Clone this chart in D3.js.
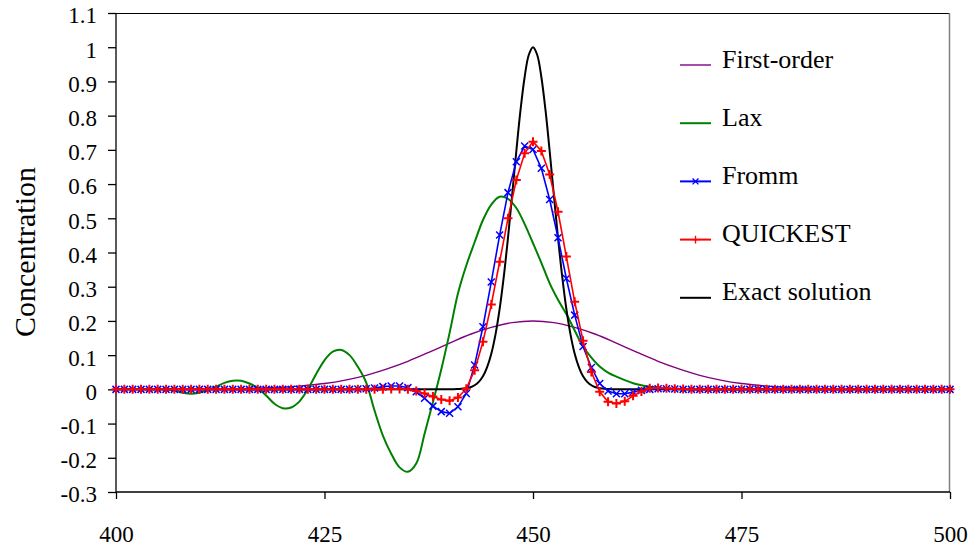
<!DOCTYPE html>
<html>
<head>
<meta charset="utf-8">
<script src="https://cdn.jsdelivr.net/npm/d3@7"></script>
<style>
  html, body { margin: 0; padding: 0; background: #fff; }
  svg { display: block; }
</style>
</head>
<body>
<svg id="chart" width="972" height="551"></svg>
<script>
// Axis ticks and their labels
const xTicks = [400, 425, 450, 475, 500];
const yTicks = [-0.3, -0.2, -0.1, 0, 0.1, 0.2, 0.3, 0.4, 0.5, 0.6, 0.7, 0.8, 0.9, 1, 1.1];
const yTickLabels = ["-0.3", "-0.2", "-0.1", "0", "0.1", "0.2", "0.3", "0.4", "0.5", "0.6", "0.7", "0.8", "0.9", "1", "1.1"];

const seriesNames = ["First-order", "Lax", "Fromm", "QUICKEST", "Exact solution"];

// First-order upwind result (smeared pulse)
const firstOrderX = [400, 405, 410, 415, 417.5, 420, 422.5, 425, 427.5, 430, 432.5, 435, 437.5, 440, 442.5, 445, 447.5, 450,
  452.5, 455, 457.5, 460, 462.5, 465, 467.5, 470, 472.5, 475, 477.5, 480, 482.5, 485, 490, 495, 500];
const firstOrderY = [0, 0, 0.001, 0.002, 0.004, 0.006, 0.011, 0.017, 0.027, 0.041, 0.060, 0.082, 0.108, 0.135, 0.161, 0.181, 0.195, 0.200,
  0.195, 0.181, 0.161, 0.135, 0.108, 0.082, 0.060, 0.041, 0.027, 0.017, 0.011, 0.006, 0.004, 0.002, 0.001, 0, 0];

// Lax scheme result (lagging, oscillating pulse)
const laxX = [400, 405, 406, 407, 408, 409, 410, 411, 412, 413, 414, 415, 416, 417, 418, 419, 420, 421, 422, 423, 424, 425, 426, 427, 428,
  429, 430, 431, 432, 433, 434, 435, 436, 437, 438, 439, 440, 441, 442, 443, 444, 445, 446, 447, 448, 449, 450, 451, 452, 453,
  454, 455, 456, 457, 458, 459, 460, 461, 462, 463, 464, 465, 466, 467, 468, 475, 500];
const laxY = [0, 0, 0, -0.003, -0.010, -0.013, -0.010, -0.002, 0.008, 0.019, 0.025, 0.025, 0.017, 0.004, -0.018, -0.042, -0.055, -0.053, -0.035, 0.000, 0.045, 0.085, 0.110, 0.115, 0.100,
  0.066, 0.020, -0.062, -0.135, -0.188, -0.228, -0.241, -0.217, -0.130, -0.038, 0.058, 0.165, 0.280, 0.362, 0.430, 0.495, 0.540, 0.563, 0.557, 0.530, 0.483, 0.427, 0.370, 0.310, 0.262,
  0.220, 0.172, 0.125, 0.093, 0.067, 0.049, 0.037, 0.027, 0.018, 0.012, 0.008, 0.004, 0.002, 0.001, 0, 0, 0];

// Fromm and QUICKEST results, one value per grid point 400..500
const gridX = d3.range(400, 501);
const frommY = [
  0, 0, 0, 0, 0, 0, 0, 0, 0, 0,
  0, 0, 0, 0, 0, 0, 0, 0, 0, 0,
  0, 0, 0, 0, 0, 0, 0, 0, 0, 0.001,
  0.002, 0.004, 0.008, 0.010, 0.010, 0.005, -0.007, -0.026, -0.049, -0.065,
  -0.070, -0.051, -0.012, 0.071, 0.183, 0.314, 0.451, 0.575, 0.665, 0.711,
  0.701, 0.646, 0.555, 0.443, 0.324, 0.217, 0.125, 0.064, 0.017, -0.005,
  -0.013, -0.013, -0.008, -0.003, 0.000, 0.002, 0.002, 0.001, 0, 0,
  0, 0, 0, 0, 0, 0, 0, 0, 0, 0,
  0, 0, 0, 0, 0, 0, 0, 0, 0, 0,
  0, 0, 0, 0, 0, 0, 0, 0, 0, 0,
  0];
const quickestY = [
  0, 0, 0, 0, 0, 0, 0, 0, 0, 0,
  0, 0, 0, 0, 0, 0, 0, 0, 0, 0,
  0, 0, 0, 0, 0, 0, 0, 0, 0, 0,
  0, 0, 0, 0.001, 0.001, 0, -0.005, -0.012, -0.021, -0.030,
  -0.033, -0.024, 0.002, 0.056, 0.139, 0.248, 0.373, 0.500, 0.612, 0.690,
  0.724, 0.697, 0.628, 0.519, 0.388, 0.256, 0.142, 0.051, -0.007, -0.036,
  -0.041, -0.035, -0.019, -0.006, 0.003, 0.004, 0.003, 0.002, 0.001, 0,
  0, 0, 0, 0, 0, 0, 0, 0, 0, 0,
  0, 0, 0, 0, 0, 0, 0, 0, 0, 0,
  0, 0, 0, 0, 0, 0, 0, 0, 0, 0,
  0];

// Exact solution (advected pulse)
const exactX = [400, 440, 441, 442, 442.5, 443, 443.5, 444, 444.5, 445, 445.5, 446, 446.5, 447, 447.5, 448, 448.5, 449, 449.5, 450,
  450.5, 451, 451.5, 452, 452.5, 453, 453.5, 454, 454.5, 455, 455.5, 456, 456.5, 457, 457.5, 458, 459, 460, 500];
const exactY = [0, 0, 0.001, 0.003, 0.006, 0.012, 0.022, 0.038, 0.065, 0.104, 0.160, 0.235, 0.330, 0.443, 0.568, 0.696, 0.816, 0.913, 0.978, 1.000,
  0.978, 0.913, 0.816, 0.696, 0.568, 0.443, 0.330, 0.235, 0.160, 0.104, 0.065, 0.038, 0.022, 0.012, 0.006, 0.003, 0.001, 0, 0];

const colors = {
  first: "#800080",
  lax: "#008000",
  fromm: "#0000ff",
  quick: "#ff0000",
  exact: "#000000"
};
const serif = "'Liberation Serif', 'Times New Roman', serif";

const svg = d3.select("#chart");
const plotLeft = 116, plotRight = 950, plotTop = 13, plotBottom = 492;

const x = d3.scaleLinear().domain([400, 500]).range([plotLeft, plotRight]);
const y = d3.scaleLinear().domain([-0.3, 1.1]).range([plotBottom, plotTop]);

// Plot frame (top and right edges)
svg.append("line").attr("x1", plotLeft).attr("x2", plotRight).attr("y1", plotTop + 0.5).attr("y2", plotTop + 0.5)
  .attr("stroke", "#000").attr("stroke-width", 1);
svg.append("line").attr("x1", plotRight - 0.5).attr("x2", plotRight - 0.5).attr("y1", plotTop).attr("y2", plotBottom)
  .attr("stroke", "#808080").attr("stroke-width", 1.5);

// Axes
const yAxis = d3.axisLeft(y).tickValues(yTicks).tickFormat((d, i) => yTickLabels[i])
  .tickSize(8).tickSizeOuter(0).tickPadding(11);
const gy = svg.append("g").attr("transform", `translate(${plotLeft},0)`).call(yAxis);
gy.select(".domain").remove();
gy.selectAll(".tick line").attr("stroke", "#000").attr("stroke-width", 1.3);
gy.selectAll(".tick text").attr("fill", "#000").attr("dy", "0.43em")
  .style("font-family", serif).style("font-size", "23px");

const xAxis = d3.axisBottom(x).tickValues(xTicks).tickFormat(d3.format("d"))
  .tickSize(7).tickSizeOuter(0).tickPadding(27);
const gx = svg.append("g").attr("transform", `translate(0,${plotBottom})`).call(xAxis);
gx.select(".domain").remove();
gx.selectAll(".tick line").attr("stroke", "#000").attr("stroke-width", 1.3);
gx.selectAll(".tick text").attr("fill", "#000")
  .style("font-family", serif).style("font-size", "23px");

svg.append("line").attr("x1", plotLeft).attr("x2", plotLeft).attr("y1", plotTop).attr("y2", plotBottom)
  .attr("stroke", "#000").attr("stroke-width", 1.3);
svg.append("line").attr("x1", plotLeft).attr("x2", plotRight).attr("y1", plotBottom).attr("y2", plotBottom)
  .attr("stroke", "#000").attr("stroke-width", 1.3);

// Axis title
svg.append("text")
  .attr("transform", "translate(35,252) rotate(-90)")
  .attr("text-anchor", "middle")
  .attr("fill", "#000")
  .style("font-family", serif).style("font-size", "30px")
  .text("Concentration");

// Series lines
const smooth = d3.line().x(d => x(d[0])).y(d => y(d[1])).curve(d3.curveCatmullRom.alpha(0.5));
const straight = d3.line().x(d => x(d[0])).y(d => y(d[1]));
const zip = (xs, ys) => xs.map((v, i) => [v, ys[i]]);

const plot = svg.append("g");

plot.append("path").datum(zip(firstOrderX, firstOrderY))
  .attr("d", smooth).attr("fill", "none").attr("stroke", colors.first).attr("stroke-width", 1.4);

plot.append("path").datum(zip(laxX, laxY))
  .attr("d", smooth).attr("fill", "none").attr("stroke", colors.lax).attr("stroke-width", 2);

plot.append("path").datum(zip(exactX, exactY))
  .attr("d", smooth).attr("fill", "none").attr("stroke", colors.exact).attr("stroke-width", 2);

const frommPts = zip(gridX, frommY);
plot.append("path").datum(frommPts)
  .attr("d", straight).attr("fill", "none").attr("stroke", colors.fromm).attr("stroke-width", 1.6);
const crossPath = "M-3.5,-3.5L3.5,3.5M-3.5,3.5L3.5,-3.5";
plot.append("g").selectAll("path").data(frommPts).join("path")
  .attr("transform", d => `translate(${x(d[0])},${y(d[1])})`)
  .attr("d", crossPath).attr("stroke", colors.fromm).attr("stroke-width", 1.5).attr("fill", "none");

const quickPts = zip(gridX, quickestY);
plot.append("path").datum(quickPts)
  .attr("d", straight).attr("fill", "none").attr("stroke", colors.quick).attr("stroke-width", 1.6);
const plusPath = "M-4.5,0H4.5M0,-4.5V4.5";
plot.append("g").selectAll("path").data(quickPts).join("path")
  .attr("transform", d => `translate(${x(d[0])},${y(d[1])})`)
  .attr("d", plusPath).attr("stroke", colors.quick).attr("stroke-width", 2).attr("fill", "none");

// Legend
const legendColors = [colors.first, colors.lax, colors.fromm, colors.quick, colors.exact];
const legendMarkers = [null, null, crossPath, plusPath, null];
const legend = svg.append("g");
seriesNames.forEach((name, i) => {
  const ly = 65 + i * 58.2;
  const g = legend.append("g").attr("transform", `translate(0,${ly})`);
  g.append("line").attr("x1", 680).attr("x2", 711).attr("y1", 0).attr("y2", 0)
    .attr("stroke", legendColors[i]).attr("stroke-width", i === 0 ? 1.4 : 2);
  if (legendMarkers[i]) {
    g.append("path").attr("transform", "translate(695.5,0) scale(0.85)")
      .attr("d", legendMarkers[i]).attr("stroke", legendColors[i]).attr("stroke-width", 1.6).attr("fill", "none");
  }
  g.append("text").attr("x", 722).attr("y", 2.5).attr("fill", "#000")
    .style("font-family", serif).style("font-size", "26px")
    .text(name);
});
</script>
</body>
</html>
